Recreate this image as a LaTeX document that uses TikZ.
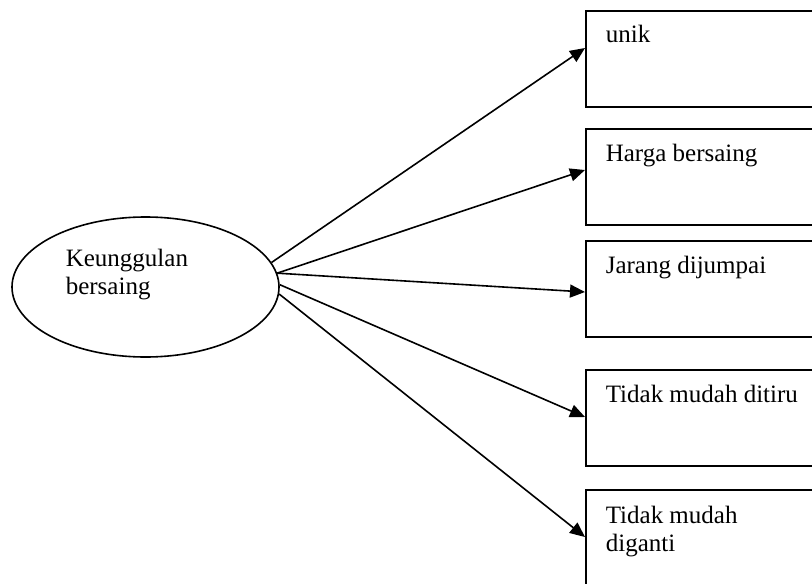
\documentclass[tikz,border=0pt]{standalone}
\usepackage{fontspec}
\setmainfont{Liberation Serif}
\usetikzlibrary{shapes.geometric,arrows.meta}
\begin{document}
\begin{tikzpicture}[x=1pt,y=-1pt,
  line width=1.6pt,
  boxnode/.style={draw, rectangle, minimum width=250pt, minimum height=96pt, anchor=north west, inner sep=0pt},
  boxtext/.style={anchor=base west, inner sep=0pt, font=\fontsize{25}{28}\selectfont},
  arr/.style={-{Triangle[length=15pt,width=13pt]}},
  ]
\useasboundingbox (0,0) rectangle (812,584);
\clip (0,0) rectangle (812,584);
\fill[white] (0,0) rectangle (812,584);

\node[draw, ellipse, minimum width=267pt, minimum height=140pt, inner sep=0pt] (k) at (145.5,287) {};
\node[anchor=base west, inner sep=0pt, align=left, font=\fontsize{25}{28}\selectfont] (kl) at (65,294) {Keunggulan\\bersaing};

\node[boxnode] (b1) at (585,10) {};
\node[boxnode] (b2) at (585,128) {};
\node[boxnode] (b3) at (585,240) {};
\node[boxnode] (b4) at (585,369) {};
\node[boxnode] (b5) at (585,489) {};

\node[boxtext] (t1) at ([xshift=20pt,yshift=-32pt]b1.north west) {unik};
\node[boxtext] (t2) at ([xshift=20pt,yshift=-33pt]b2.north west) {Harga bersaing};
\node[boxtext] (t3) at ([xshift=20pt,yshift=-33pt]b3.north west) {Jarang dijumpai};
\node[boxtext] (t4) at ([xshift=20pt,yshift=-33pt]b4.north west) {Tidak mudah ditiru};
\node[boxtext, align=left] (t5) at ([xshift=20pt,yshift=-62pt]b5.north west) {Tidak mudah\\diganti};

\coordinate (e1) at ([yshift=-38pt]b1.north west);
\coordinate (e2) at ([yshift=-42pt]b2.north west);
\coordinate (e3) at ([yshift=-52pt]b3.north west);
\coordinate (e4) at ([yshift=-48pt]b4.north west);
\coordinate (e5) at ([yshift=-48pt]b5.north west);

\draw[arr] (k.11) -- (e1);
\draw[arr] (k.6) -- (e2);
\draw[arr] (k.6) -- (e3);
\draw[arr] (k.1) -- (e4);
\draw[arr] (k.-3) -- (e5);
\end{tikzpicture}
\end{document}
